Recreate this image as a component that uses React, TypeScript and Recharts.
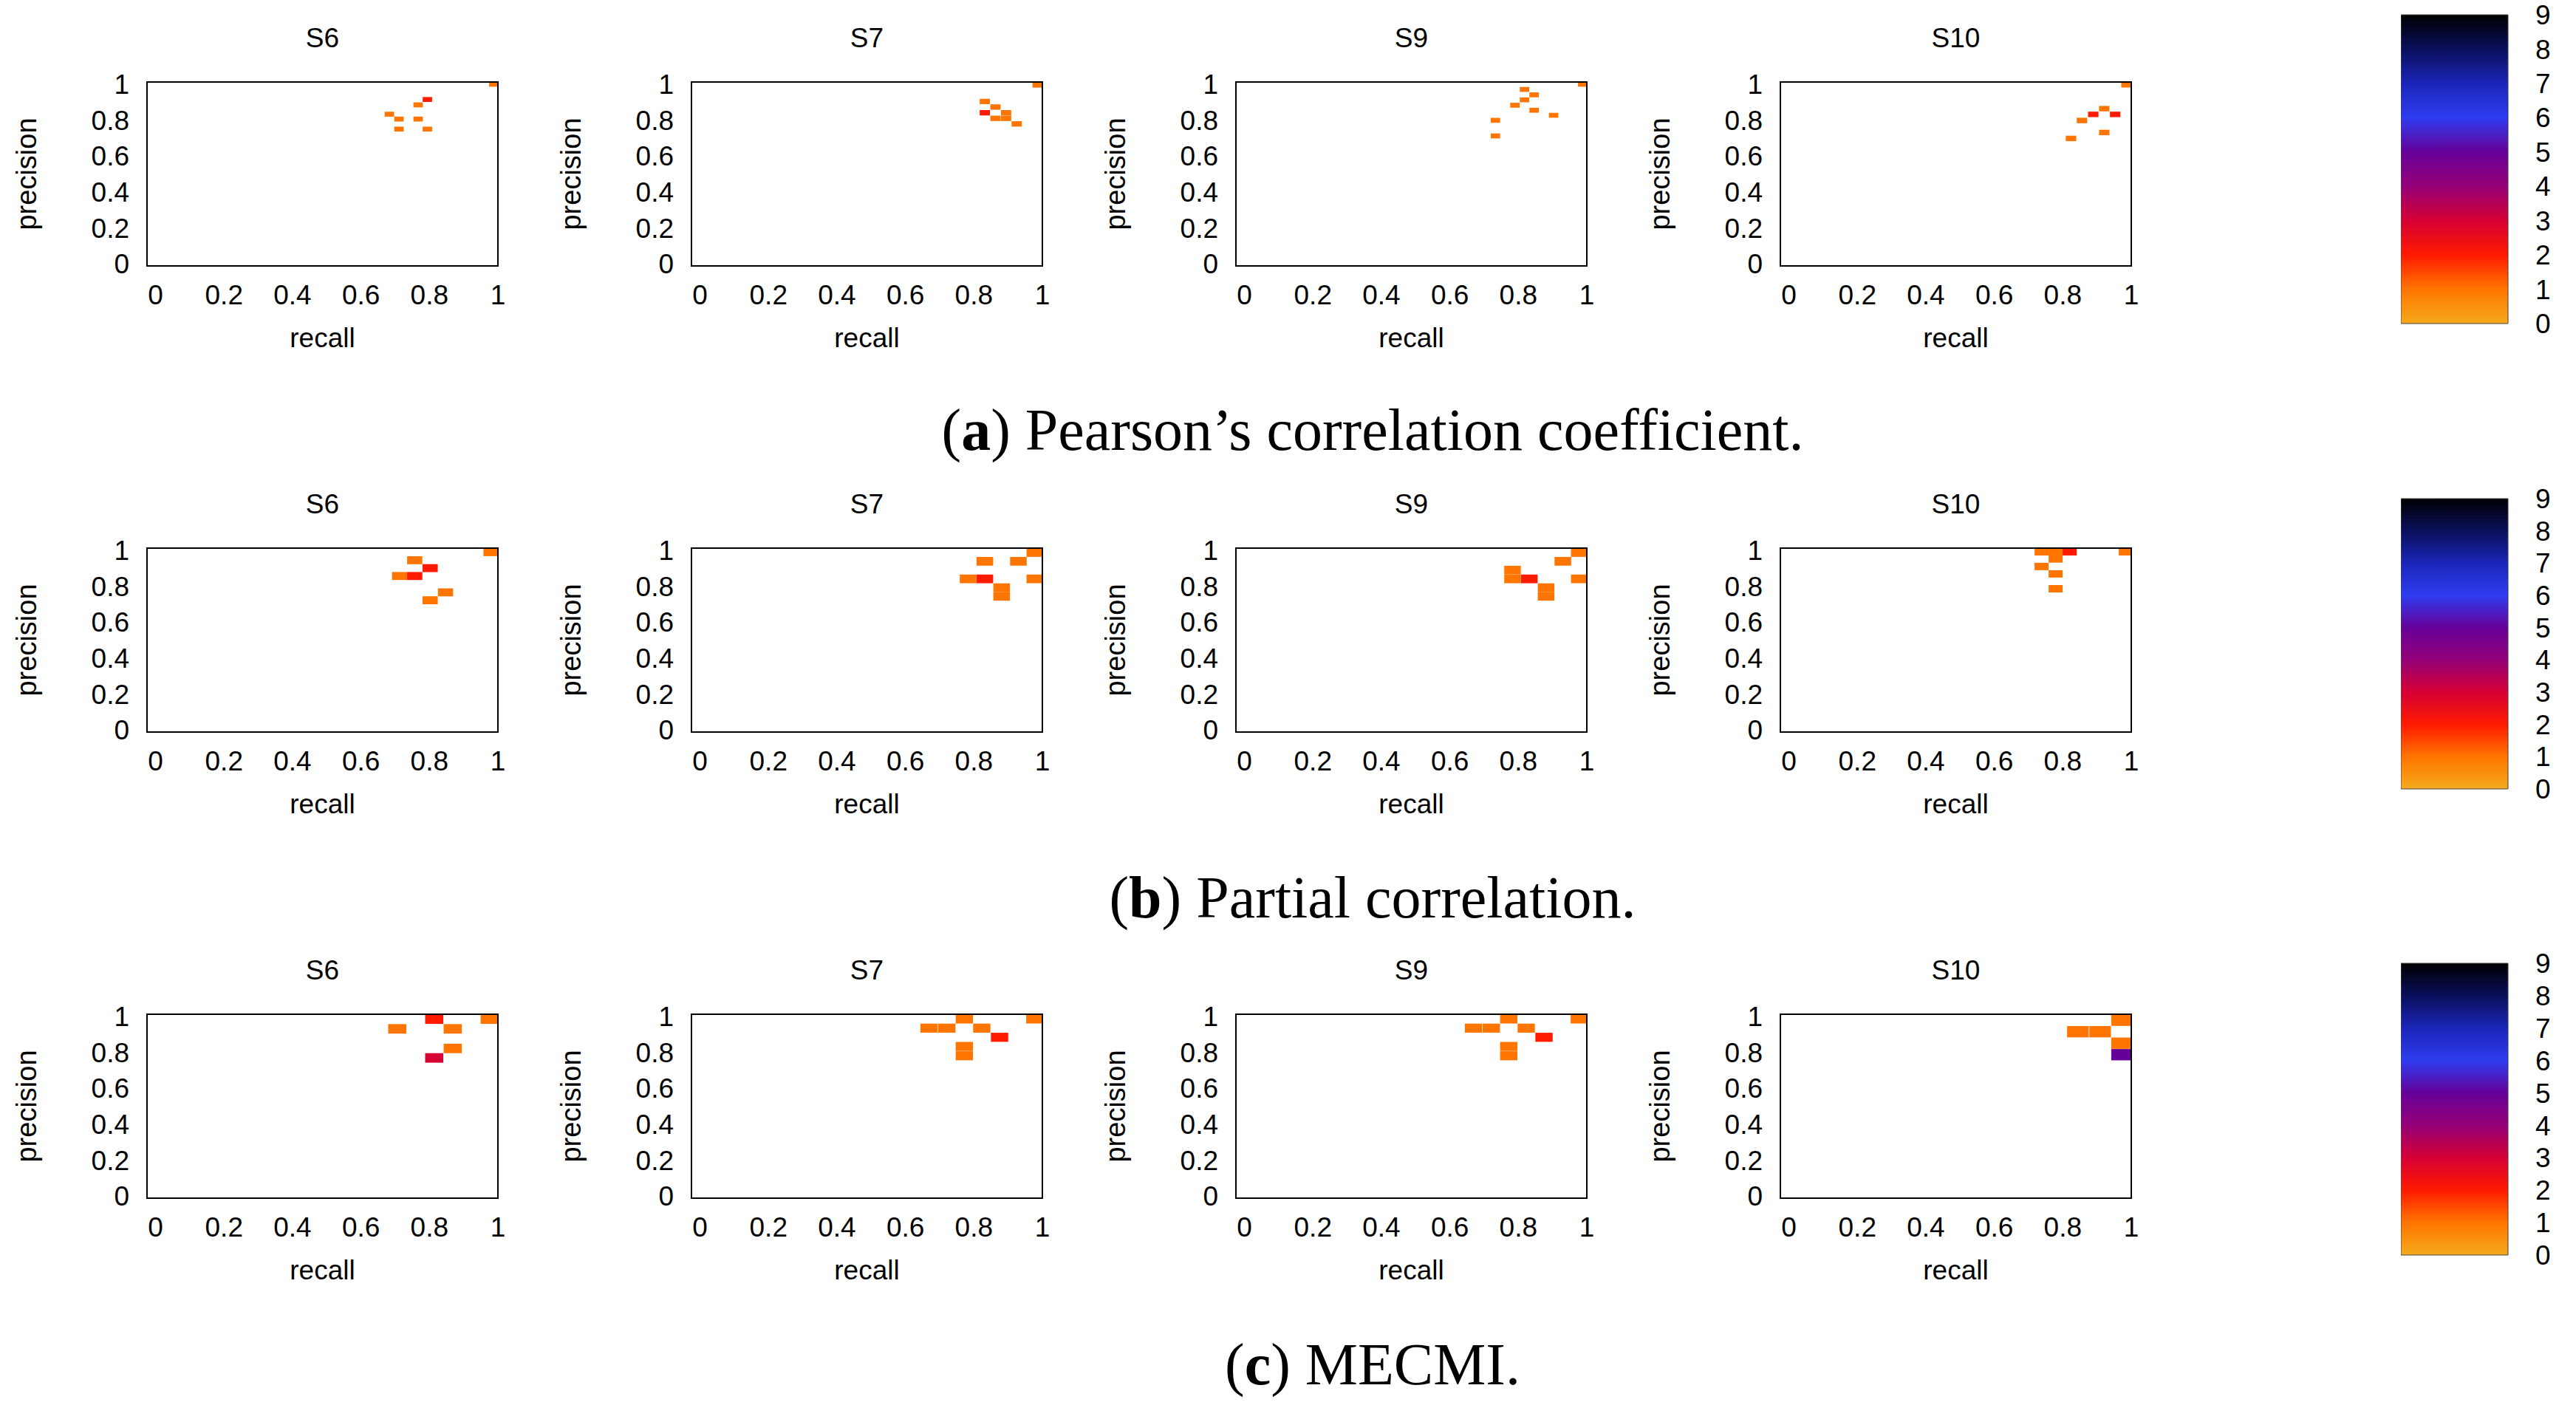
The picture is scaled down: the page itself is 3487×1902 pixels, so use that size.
import React from "react";
import { ScatterChart, Scatter, XAxis, YAxis, ReferenceArea } from "recharts";

type Cell = { recall: number; precision: number; count: number };

// ---- data: one list of heat-map cells per panel ----

const panelNames = ["S6", "S7", "S9", "S10"];
const captionLetters = ["a", "b", "c"];
const captionTexts = [
  "Pearson\u2019s correlation coefficient.",
  "Partial correlation.",
  "MECMI.",
];

const pearsonS6: Cell[] = [
  { recall: 0.988, precision: 1.0, count: 1 },
  { recall: 0.794, precision: 0.915, count: 2 },
  { recall: 0.767, precision: 0.885, count: 1 },
  { recall: 0.683, precision: 0.833, count: 1 },
  { recall: 0.711, precision: 0.806, count: 1 },
  { recall: 0.767, precision: 0.806, count: 1 },
  { recall: 0.711, precision: 0.75, count: 1 },
  { recall: 0.794, precision: 0.75, count: 1 },
];
const pearsonS7: Cell[] = [
  { recall: 0.986, precision: 0.996, count: 1 },
  { recall: 0.832, precision: 0.904, count: 1 },
  { recall: 0.863, precision: 0.873, count: 1 },
  { recall: 0.832, precision: 0.841, count: 2 },
  { recall: 0.894, precision: 0.841, count: 1 },
  { recall: 0.863, precision: 0.81, count: 1 },
  { recall: 0.894, precision: 0.81, count: 1 },
  { recall: 0.925, precision: 0.779, count: 1 },
];
const pearsonS9: Cell[] = [
  { recall: 0.988, precision: 1.0, count: 1 },
  { recall: 0.818, precision: 0.971, count: 1 },
  { recall: 0.846, precision: 0.941, count: 1 },
  { recall: 0.818, precision: 0.913, count: 1 },
  { recall: 0.79, precision: 0.883, count: 1 },
  { recall: 0.846, precision: 0.855, count: 1 },
  { recall: 0.903, precision: 0.827, count: 1 },
  { recall: 0.733, precision: 0.799, count: 1 },
  { recall: 0.733, precision: 0.712, count: 1 },
];
const pearsonS10: Cell[] = [
  { recall: 0.986, precision: 0.997, count: 1 },
  { recall: 0.921, precision: 0.864, count: 1 },
  { recall: 0.889, precision: 0.832, count: 2 },
  { recall: 0.953, precision: 0.832, count: 2 },
  { recall: 0.856, precision: 0.798, count: 1 },
  { recall: 0.921, precision: 0.731, count: 1 },
  { recall: 0.824, precision: 0.698, count: 1 },
];

const partialS6: Cell[] = [
  { recall: 0.98, precision: 0.99, count: 1 },
  { recall: 0.757, precision: 0.945, count: 1 },
  { recall: 0.802, precision: 0.901, count: 2 },
  { recall: 0.713, precision: 0.857, count: 1 },
  { recall: 0.757, precision: 0.857, count: 2 },
  { recall: 0.847, precision: 0.766, count: 1 },
  { recall: 0.802, precision: 0.722, count: 1 },
];
const partialS7: Cell[] = [
  { recall: 0.978, precision: 0.988, count: 1 },
  { recall: 0.832, precision: 0.939, count: 1 },
  { recall: 0.93, precision: 0.939, count: 1 },
  { recall: 0.783, precision: 0.841, count: 1 },
  { recall: 0.832, precision: 0.841, count: 2 },
  { recall: 0.978, precision: 0.841, count: 1 },
  { recall: 0.881, precision: 0.792, count: 1 },
  { recall: 0.881, precision: 0.744, count: 1 },
];
const partialS9: Cell[] = [
  { recall: 0.978, precision: 0.988, count: 1 },
  { recall: 0.93, precision: 0.939, count: 1 },
  { recall: 0.783, precision: 0.89, count: 1 },
  { recall: 0.783, precision: 0.841, count: 1 },
  { recall: 0.832, precision: 0.841, count: 2 },
  { recall: 0.978, precision: 0.841, count: 1 },
  { recall: 0.881, precision: 0.792, count: 1 },
  { recall: 0.881, precision: 0.744, count: 1 },
];
const partialS10: Cell[] = [
  { recall: 0.738, precision: 0.992, count: 1 },
  { recall: 0.779, precision: 0.992, count: 1 },
  { recall: 0.82, precision: 0.992, count: 2 },
  { recall: 0.984, precision: 0.992, count: 1 },
  { recall: 0.779, precision: 0.952, count: 1 },
  { recall: 0.738, precision: 0.91, count: 1 },
  { recall: 0.779, precision: 0.869, count: 1 },
  { recall: 0.779, precision: 0.786, count: 1 },
];

const mecmiS6: Cell[] = [
  { recall: 0.814, precision: 0.985, count: 2 },
  { recall: 0.976, precision: 0.985, count: 1 },
  { recall: 0.706, precision: 0.931, count: 1 },
  { recall: 0.868, precision: 0.931, count: 1 },
  { recall: 0.868, precision: 0.822, count: 1 },
  { recall: 0.814, precision: 0.769, count: 3 },
];
const mecmiS7: Cell[] = [
  { recall: 0.772, precision: 0.986, count: 1 },
  { recall: 0.978, precision: 0.986, count: 1 },
  { recall: 0.669, precision: 0.935, count: 1 },
  { recall: 0.721, precision: 0.935, count: 1 },
  { recall: 0.823, precision: 0.935, count: 1 },
  { recall: 0.875, precision: 0.884, count: 2 },
  { recall: 0.772, precision: 0.833, count: 1 },
  { recall: 0.772, precision: 0.781, count: 1 },
];
const mecmiS9: Cell[] = [
  { recall: 0.772, precision: 0.986, count: 1 },
  { recall: 0.978, precision: 0.986, count: 1 },
  { recall: 0.669, precision: 0.935, count: 1 },
  { recall: 0.721, precision: 0.935, count: 1 },
  { recall: 0.823, precision: 0.935, count: 1 },
  { recall: 0.875, precision: 0.884, count: 2 },
  { recall: 0.772, precision: 0.833, count: 1 },
  { recall: 0.772, precision: 0.781, count: 1 },
];
const mecmiS10: Cell[] = [
  { recall: 0.973, precision: 0.979, count: 1 },
  { recall: 0.844, precision: 0.915, count: 1 },
  { recall: 0.909, precision: 0.915, count: 1 },
  { recall: 0.973, precision: 0.851, count: 1 },
  { recall: 0.973, precision: 0.787, count: 5 },
];

const recallTicks = [0, 0.2, 0.4, 0.6, 0.8, 1];
const precisionTicks = [0, 0.2, 0.4, 0.6, 0.8, 1];
const countTicks = [0, 1, 2, 3, 4, 5, 6, 7, 8, 9];

// colour palette of the colour box, by count
const paletteCounts = [0, 1, 2, 3, 4, 5, 6, 7, 8, 9];
const paletteColors = [
  "#f5aa1c", "#ff7500", "#ff1a00", "#d60034", "#950078",
  "#660099", "#2e3cf0", "#1a26b8", "#0a0f5c", "#000000",
];

// ---- layout ----

const rows = [
  [pearsonS6, pearsonS7, pearsonS9, pearsonS10],
  [partialS6, partialS7, partialS9, partialS10],
  [mecmiS6, mecmiS7, mecmiS9, mecmiS10],
];
// bin edge length (data units) of each panel's image pixels
const binSizes = [
  [0.0275, 0.03, 0.0275, 0.0305],
  [0.0445, 0.0485, 0.0485, 0.041],
  [0.053, 0.0505, 0.0505, 0.063],
];

const X_DOMAIN: [number, number] = [-0.025, 1.0];
const Y_DOMAIN: [number, number] = [-0.0125, 1.0125];
const COL_STEP = 737;
const ROW_STEP = 631;
const FONT = "'Liberation Sans', Arial, sans-serif";
const colorBars = [
  { top: 20, bottom: 438 },
  { top: 675, bottom: 1068 },
  { top: 1304, bottom: 1699 },
];
const captionCenters = [582, 1215, 1847];

function hexToRgb(h: string): number[] {
  const n = parseInt(h.slice(1), 16);
  return [(n >> 16) & 255, (n >> 8) & 255, n & 255];
}

function countColor(v: number): string {
  let i = 0;
  while (i < paletteCounts.length - 2 && v > paletteCounts[i + 1]) i++;
  const t = (v - paletteCounts[i]) / (paletteCounts[i + 1] - paletteCounts[i]);
  const a = hexToRgb(paletteColors[i]);
  const b = hexToRgb(paletteColors[i + 1]);
  const c = a.map((x, k) => Math.round(x + (b[k] - x) * t));
  return `rgb(${c[0]},${c[1]},${c[2]})`;
}

const tickStyle = { fill: "#000", fontSize: 37, fontFamily: FONT };

function Panel({ cells, bin, left, top, title }: {
  cells: Cell[]; bin: number; left: number; top: number; title: string;
}) {
  return (
    <div style={{ position: "absolute", left, top }}>
      <div
        style={{
          position: "absolute", left: 199, top: 32, width: 475,
          textAlign: "center", fontFamily: FONT, fontSize: 37, lineHeight: "40px",
        }}
      >
        {title}
      </div>
      <ScatterChart
        width={695}
        height={480}
        margin={{ top: 111, right: 21, bottom: 0, left: 0 }}
      >
        <XAxis
          type="number"
          dataKey="recall"
          domain={X_DOMAIN}
          allowDataOverflow
          ticks={recallTicks}
          interval={0}
          height={120}
          axisLine={false}
          tickLine={false}
          tickSize={0}
          tickMargin={26}
          tick={tickStyle}
          label={{
            value: "recall", position: "insideBottom", offset: 10,
            style: { fill: "#000", fontSize: 37, fontFamily: FONT },
          }}
        />
        <YAxis
          type="number"
          dataKey="precision"
          domain={Y_DOMAIN}
          allowDataOverflow
          ticks={precisionTicks}
          interval={0}
          width={199}
          axisLine={false}
          tickLine={false}
          tickSize={0}
          tickMargin={24}
          tick={tickStyle}
          label={{
            value: "precision", angle: -90, position: "insideLeft", offset: 36,
            style: { textAnchor: "middle", fill: "#000", fontSize: 38, fontFamily: FONT },
          }}
        />
        <Scatter data={cells} fill="transparent" isAnimationActive={false} />
        {cells.map((c, i) => (
          <ReferenceArea
            key={i}
            x1={c.recall - bin / 2}
            x2={c.recall + bin / 2}
            y1={c.precision - bin / 2}
            y2={c.precision + bin / 2}
            fill={countColor(c.count)}
            fillOpacity={1}
            stroke="none"
            ifOverflow="hidden"
          />
        ))}
        <ReferenceArea
          x1={X_DOMAIN[0]}
          x2={X_DOMAIN[1]}
          y1={Y_DOMAIN[0]}
          y2={Y_DOMAIN[1]}
          fill="none"
          stroke="#000"
          strokeWidth={2}
          ifOverflow="visible"
        />
      </ScatterChart>
    </div>
  );
}

// one transparent point per count tick so the colour box has a series
const colorBoxPoints = countTicks.map((v) => ({ x: 0.5, y: v }));

function ColorBox({ row }: { row: number }) {
  const { top, bottom } = colorBars[row];
  const id = `cbGrad${row}`;
  return (
    <div style={{ position: "absolute", left: 3250, top: top - 20 }}>
      <ScatterChart
        width={145 + 80}
        height={bottom - top + 40}
        margin={{ top: 20, right: 0, bottom: 20, left: 0 }}
      >
        <defs>
          <linearGradient id={id} x1="0" y1="1" x2="0" y2="0">
            {paletteColors.map((col, i) => (
              <stop key={i} offset={`${(paletteCounts[i] / 9) * 100}%`} stopColor={col} />
            ))}
          </linearGradient>
        </defs>
        <XAxis type="number" dataKey="x" domain={[0, 1]} hide />
        <YAxis
          type="number"
          dataKey="y"
          orientation="right"
          domain={[0, 9]}
          ticks={countTicks}
          interval={0}
          width={80}
          axisLine={false}
          tickLine={false}
          tickSize={0}
          tickMargin={37}
          tick={tickStyle}
        />
        <Scatter data={colorBoxPoints} fill="transparent" isAnimationActive={false} />
        <ReferenceArea
          x1={0}
          x2={1}
          y1={0}
          y2={9}
          fill={`url(#${id})`}
          fillOpacity={1}
          stroke="#444"
          strokeWidth={1}
          ifOverflow="visible"
        />
      </ScatterChart>
    </div>
  );
}

export default function App() {
  return (
    <div style={{ position: "relative", width: 3487, height: 1902, background: "#fff" }}>
      <style>{"body{margin:0}"}</style>
      {rows.map((row, r) => (
        <React.Fragment key={r}>
          {row.map((cells, c) => (
            <Panel
              key={c}
              cells={cells}
              bin={binSizes[r][c]}
              left={c * COL_STEP}
              top={r * ROW_STEP}
              title={panelNames[c]}
            />
          ))}
          <ColorBox row={r} />
          <div
            style={{
              position: "absolute", left: 858, width: 2000, top: captionCenters[r] - 45,
              height: 90, lineHeight: "90px", textAlign: "center",
              fontFamily: "'Liberation Serif', 'Times New Roman', serif", fontSize: 80,
            }}
          >
            (<b>{captionLetters[r]}</b>) {captionTexts[r]}
          </div>
        </React.Fragment>
      ))}
    </div>
  );
}
